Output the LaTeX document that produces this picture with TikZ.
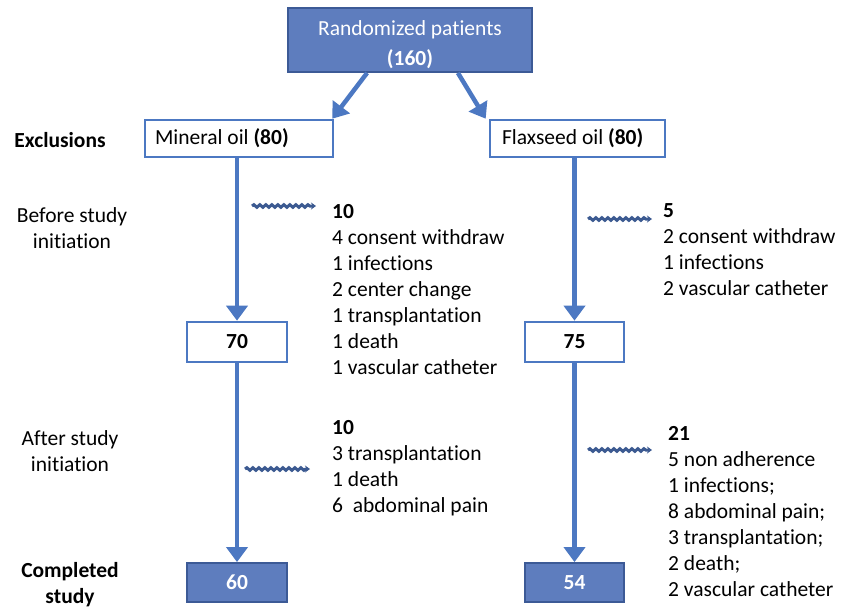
\documentclass[tikz,border=0pt]{standalone}
\usepackage{fontspec}
\setmainfont{Carlito}[Ligatures=NoCommon]
\usetikzlibrary{arrows.meta,decorations.pathmorphing,calc}
\definecolor{boxfill}{RGB}{94,125,190}
\definecolor{boxedge}{RGB}{60,90,150}
\definecolor{arrowblue}{RGB}{76,120,194}
\definecolor{wavy}{RGB}{60,90,145}
\tikzset{
  txt/.style={font=\fontsize{21.5}{26}\selectfont, inner sep=0pt},
  bluebox/.style={draw=boxedge, line width=1.8pt, fill=boxfill, text=white, font=\fontsize{21.5}{26}\selectfont\bfseries, inner sep=0pt},
  whitebox/.style={draw=arrowblue, line width=2.6pt, fill=white, font=\fontsize{21.5}{26}\selectfont, inner sep=0pt},
  bigarrow/.style={draw=arrowblue, line width=4.5pt, -{Triangle[length=15pt,width=21pt]}},
  wavearrow/.style={draw=wavy, line width=3pt, decorate, decoration={snake, amplitude=1.3pt, segment length=6pt, post length=4pt}, -{Stealth[length=5pt,width=7pt]}},
}
\begin{document}
\begin{tikzpicture}[x=1pt,y=-1pt]
\useasboundingbox (0,0) rectangle (843,608);
% boxes
\node[bluebox, minimum width=244pt, minimum height=64pt] (top) at (410,40) {};
\node[txt, text=white, align=center] (toptext) at (410,45) {Randomized patients\\[4pt]\textbf{(160)}};
\node[whitebox, minimum width=188pt, minimum height=37pt] (mo) at (239,138.5) {\makebox[168pt][l]{Mineral oil \textbf{(80)}}};
\node[whitebox, minimum width=175pt, minimum height=37pt] (fo) at (577.5,138.5) {\makebox[151pt][l]{Flaxseed oil \textbf{(80)}}};
\node[whitebox, minimum width=100pt, minimum height=40pt, font=\fontsize{21.5}{26}\selectfont\bfseries] (b70) at (237,342) {70};
\node[whitebox, minimum width=99pt, minimum height=40pt, font=\fontsize{21.5}{26}\selectfont\bfseries] (b75) at (574.5,342) {75};
\node[bluebox, minimum width=100pt, minimum height=39pt] (b60) at (237,582.5) {60};
\node[bluebox, minimum width=99pt, minimum height=39pt] (b54) at (574.5,582.5) {54};
% arrows
\draw[bigarrow] ($(top.south west)+(80,0)$) -- ($(mo.north east)+(-2,0)$);
\draw[bigarrow] ($(top.south east)+(-75,0)$) -- ($(fo.north west)+(-3,0)$);
\draw[bigarrow] (b70.north |- mo.south) -- (b70.north);
\draw[bigarrow] (b70.south) -- (b60.north);
\draw[bigarrow] (b75.north |- fo.south) -- (b75.north);
\draw[bigarrow] (b75.south) -- (b54.north);
% side labels
\node[txt, font=\fontsize{21.5}{26}\selectfont\bfseries] (excl) at (60,140) {Exclusions};
\node[txt, align=center] (before) at (72,228) {Before study\\initiation};
\node[txt, align=center] (after) at (70,451) {After study\\initiation};
\node[txt, align=center, font=\fontsize{21.5}{26}\selectfont\bfseries] (compl) at (70,585) {Completed\\study};
% exclusion lists (anchored at the baseline of the last line)
\node[txt, align=left, anchor=base west] (l1) at (332,374) {\textbf{10}\\4 consent withdraw\\1 infections\\2 center change\\1 transplantation\\1 death\\1 vascular catheter};
\node[txt, align=left, anchor=base west] (r1) at (663,295) {\textbf{5}\\2 consent withdraw\\1 infections\\2 vascular catheter};
\node[txt, align=left, anchor=base west] (l2) at (332,512) {\textbf{10}\\3 transplantation\\1 death\\6\ \ abdominal pain};
\node[txt, align=left, anchor=base west] (r2) at (668,596) {\textbf{21}\\5 non adherence\\1 infections;\\8 abdominal pain;\\3 transplantation;\\2 death;\\2 vascular catheter};
% wavy arrows
\coordinate (w1a) at (252,206); \coordinate (w1b) at (316,206);
\coordinate (w2a) at (588,219); \coordinate (w2b) at (652,219);
\coordinate (w3a) at (245,469); \coordinate (w3b) at (310,469);
\coordinate (w4a) at (588,450); \coordinate (w4b) at (652,450);
\draw[wavearrow] (w1a) -- (w1b);
\draw[wavearrow] (w2a) -- (w2b);
\draw[wavearrow] (w3a) -- (w3b);
\draw[wavearrow] (w4a) -- (w4b);
\end{tikzpicture}
\end{document}
